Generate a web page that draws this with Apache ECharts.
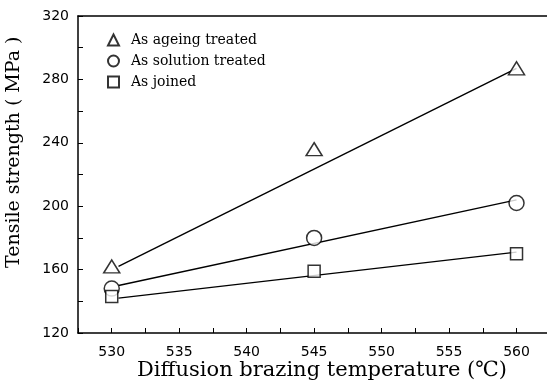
<!DOCTYPE html>
<html>
<head>
<meta charset="utf-8">
<script src="https://cdn.jsdelivr.net/npm/echarts@6/dist/echarts.min.js"></script>
<style>
  html, body { margin: 0; padding: 0; background: #fff; }
  #main { width: 547px; height: 385px; }
</style>
</head>
<body>
<div id="main"></div>
<script>
// temperatures (℃) and measured tensile strength (MPa)
const temps = [530, 545, 560];
const ageing = [162, 236, 287];
const solution = [148, 180, 202];
const joined = [143, 159, 170];

// fitted lines: [start temp, end temp] and values
const fitTemps = [530.5, 560];
const ageingFit = [162, 287];
const solutionFit = [150, 204];
const joinedFit = [142, 171];

const names = ['As ageing treated', 'As solution treated', 'As joined'];

const pairs = (xs, ys) => xs.map((x, i) => [x, ys[i]]);

const markStyle = { color: '#fff', borderColor: '#000', borderWidth: 1.5 };
const serif = '"DejaVu Serif", "Liberation Serif", serif';
const sans = '"DejaVu Sans", Arial, sans-serif';
const axisLine = { lineStyle: { color: '#000', width: 1.5 } };

const myChart = echarts.init(document.getElementById('main'));

const option = {
  animation: false,
  backgroundColor: '#fff',
  grid: {
    left: 78,
    right: -10, // plot box runs off the right edge in the original
    top: 16,
    bottom: 52,
    outerBoundsMode: 'none',
  },
  legend: {
    orient: 'vertical',
    left: 102,
    top: 28,
    itemGap: 7,
    itemWidth: 11,
    itemHeight: 11,
    data: names,
    textStyle: { fontFamily: serif, fontSize: 14, color: '#000', padding: [0, 0, 0, 7] },
  },
  xAxis: [
    {
      type: 'value',
      min: 527.5,
      max: 563,
      interval: 2.5,
      splitLine: { show: false },
      axisLine: axisLine,
      axisTick: { inside: true, length: 5, lineStyle: { color: '#000' } },
      axisLabel: {
        color: '#000',
        fontFamily: sans,
        fontSize: 14,
        margin: 12,
        formatter: function (value) {
          return value % 5 === 0 ? String(value) : '';
        },
      },
    },
    {
      // top frame line only
      type: 'value',
      position: 'top',
      min: 527.5,
      max: 563,
      axisLine: axisLine,
      axisTick: { show: false },
      axisLabel: { show: false },
      splitLine: { show: false },
    },
  ],
  yAxis: {
    type: 'value',
    min: 120,
    max: 320,
    interval: 40,
    splitLine: { show: false },
    axisLine: axisLine,
    axisTick: { inside: true, length: 5, lineStyle: { color: '#000' } },
    minorTick: { show: true, splitNumber: 2, length: 5, lineStyle: { color: '#000' } },
    axisLabel: { color: '#000', fontFamily: sans, fontSize: 14, margin: 9 },
  },
  graphic: [
    {
      type: 'text',
      left: 137,
      top: 360,
      style: { text: 'Diffusion brazing temperature (℃)', font: '21px ' + serif, fill: '#000' },
    },
    {
      type: 'text',
      x: 5,
      y: 268,
      rotation: Math.PI / 2,
      style: { text: 'Tensile strength ( MPa )', font: '19px ' + serif, fill: '#000' },
    },
  ],
  series: [
    { name: names[0], type: 'scatter', symbol: 'triangle', symbolSize: [16, 13], itemStyle: markStyle, data: pairs(temps, ageing), z: 3 },
    { name: names[1], type: 'scatter', symbol: 'circle', symbolSize: 15, itemStyle: markStyle, data: pairs(temps, solution), z: 3 },
    { name: names[2], type: 'scatter', symbol: 'rect', symbolSize: 12, itemStyle: markStyle, data: pairs(temps, joined), z: 3 },
    { type: 'line', showSymbol: false, lineStyle: { color: '#000', width: 1.4 }, data: pairs(fitTemps, ageingFit) },
    { type: 'line', showSymbol: false, lineStyle: { color: '#000', width: 1.4 }, data: pairs(fitTemps, solutionFit) },
    { type: 'line', showSymbol: false, lineStyle: { color: '#000', width: 1.4 }, data: pairs(fitTemps, joinedFit) },
  ],
};

myChart.setOption(option);
</script>
</body>
</html>
